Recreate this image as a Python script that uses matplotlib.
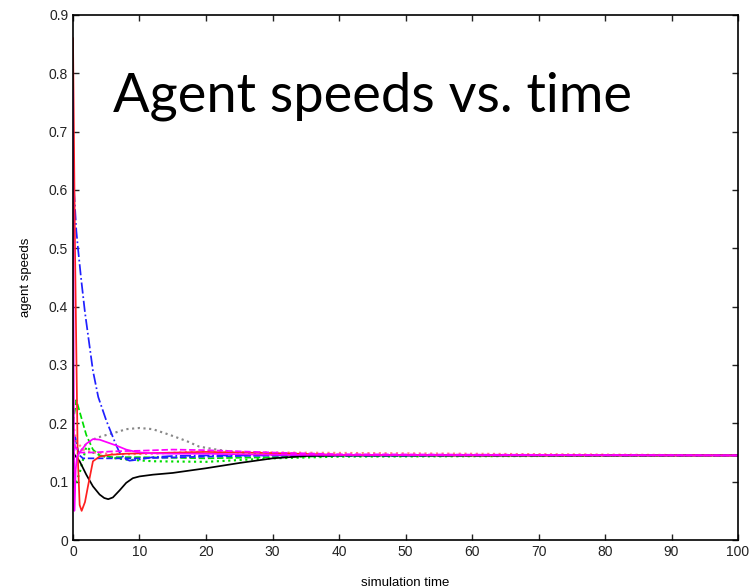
import matplotlib.pyplot as plt
import numpy as np

# agent speed traces (time, speed)
red_t = [0, 0.3, 0.7, 1.0, 1.3, 1.8, 2.3, 3.0, 4.0, 5.5, 8, 12, 20, 30, 40, 60, 100]
red_v = [0.86, 0.5, 0.15, 0.06, 0.05, 0.065, 0.095, 0.135, 0.143, 0.146, 0.148, 0.149, 0.151, 0.149, 0.146, 0.145, 0.145]

blk_t = [0, 0.3, 1, 2, 3, 4, 4.7, 5.3, 6, 7, 8, 9, 10, 12, 15, 20, 25, 30, 35, 40, 100]
blk_v = [0.15, 0.145, 0.135, 0.112, 0.092, 0.078, 0.072, 0.07, 0.073, 0.085, 0.098, 0.106, 0.109, 0.112, 0.115, 0.123, 0.132, 0.14, 0.144, 0.145, 0.145]

dot_t = [0, 1, 2, 3.5, 5, 6.6, 8, 10, 12, 14.6, 17, 19, 21.6, 26, 30, 40, 100]
dot_v = [0.14, 0.15, 0.165, 0.175, 0.18, 0.185, 0.19, 0.192, 0.19, 0.18, 0.17, 0.16, 0.155, 0.148, 0.146, 0.145, 0.145]

bdd_t = [0, 0.2, 0.5, 0.75, 1.2, 1.8, 2.4, 3.0, 3.8, 4.4, 5.0, 5.7, 6.4, 7, 7.7, 8.5, 10, 12, 15, 20, 100]
bdd_v = [0.63, 0.59, 0.53, 0.5, 0.45, 0.39, 0.34, 0.29, 0.245, 0.225, 0.205, 0.185, 0.165, 0.15, 0.14, 0.136, 0.138, 0.142, 0.144, 0.145, 0.145]

bda_t = [0, 0.3, 0.6, 1, 1.5, 3, 6, 10, 20, 30, 100]
bda_v = [0.09, 0.18, 0.16, 0.145, 0.14, 0.14, 0.14, 0.14, 0.143, 0.145, 0.145]

gda_t = [0, 0.5, 1, 2, 3, 4, 6, 10, 20, 30, 40, 100]
gda_v = [0.2, 0.24, 0.22, 0.18, 0.155, 0.145, 0.142, 0.142, 0.14, 0.142, 0.144, 0.145]

gdo_t = [0, 0.5, 1, 2, 3, 5, 8, 12, 20, 30, 40, 100]
gdo_v = [0.09, 0.1, 0.115, 0.16, 0.15, 0.142, 0.138, 0.135, 0.134, 0.14, 0.143, 0.145]

mag_t = [0, 0.1, 0.2, 0.4, 0.6, 1, 2, 3, 4, 5, 6.5, 8, 9.5, 11, 15, 20, 30, 100]
mag_v = [0.77, 0.3, 0.05, 0.12, 0.143, 0.15, 0.165, 0.173, 0.172, 0.168, 0.162, 0.155, 0.151, 0.149, 0.148, 0.148, 0.146, 0.145]

mgd_t = [0, 0.3, 1, 3, 6, 10, 15, 20, 30, 40, 100]
mgd_v = [0.18, 0.16, 0.15, 0.15, 0.152, 0.153, 0.155, 0.154, 0.15, 0.147, 0.145]

pnk_t = [0, 0.5, 1.5, 3, 5, 8, 12, 20, 30, 100]
pnk_v = [0.2, 0.17, 0.155, 0.15, 0.148, 0.147, 0.148, 0.152, 0.15, 0.145]

yticks = [0, 0.1, 0.2, 0.3, 0.4, 0.5, 0.6, 0.7, 0.8, 0.9]
ylabels = ['0', '0.1', '0.2', '0.3', '0.4', '0.5', '0.6', '0.7', '0.8', '0.9']
xticks = [0, 10, 20, 30, 40, 50, 60, 70, 80, 90, 100]

plt.rcParams['font.family'] = ['Liberation Sans', 'DejaVu Sans']
fig = plt.figure(figsize=(7.51, 5.88), dpi=100)
ax = fig.add_axes([0.0972, 0.0816, 0.8855, 0.893])

lw = 1.25
ax.plot(gdo_t, gdo_v, color='#00dd00', ls=':', lw=lw + 0.3)
ax.plot(gda_t, gda_v, color='#00dd00', ls='--', lw=lw)
ax.plot(dot_t, dot_v, color='#888888', ls=':', lw=lw + 0.3)
ax.plot(bdd_t, bdd_v, color='#2020ff', ls='-.', lw=lw)
ax.plot(bda_t, bda_v, color='#2020ff', ls='--', lw=lw)
ax.plot(pnk_t, pnk_v, color='#ff8080', ls=':', lw=lw + 0.3)
ax.plot(blk_t, blk_v, color='black', ls='-', lw=lw)
ax.plot(red_t, red_v, color='#ff2020', ls='-', lw=lw)
ax.plot(mgd_t, mgd_v, color='#ff00ff', ls='--', lw=lw)
ax.plot(mag_t, mag_v, color='#ff00ff', ls='-', lw=lw)

ax.set_xlim(0, 100)
ax.set_ylim(0, 0.9)
ax.set_xticks(xticks)
ax.set_xticklabels([str(x) for x in xticks])
ax.set_yticks(yticks)
ax.set_yticklabels(ylabels)
ax.tick_params(direction='in', top=True, right=True, length=4, width=1, labelsize=10, colors='#222222')
for s in ax.spines.values():
    s.set_linewidth(1.2)
ax.set_xlabel('simulation time', fontsize=9.5, labelpad=13)
ax.set_ylabel('agent speeds', fontsize=9.5, labelpad=12)

fig.text(0.151, 0.81, 'Agent speeds vs. time', family=['Lato', 'DejaVu Sans'], fontsize=39, color='black')

plt.savefig('out.png', dpi=100)
